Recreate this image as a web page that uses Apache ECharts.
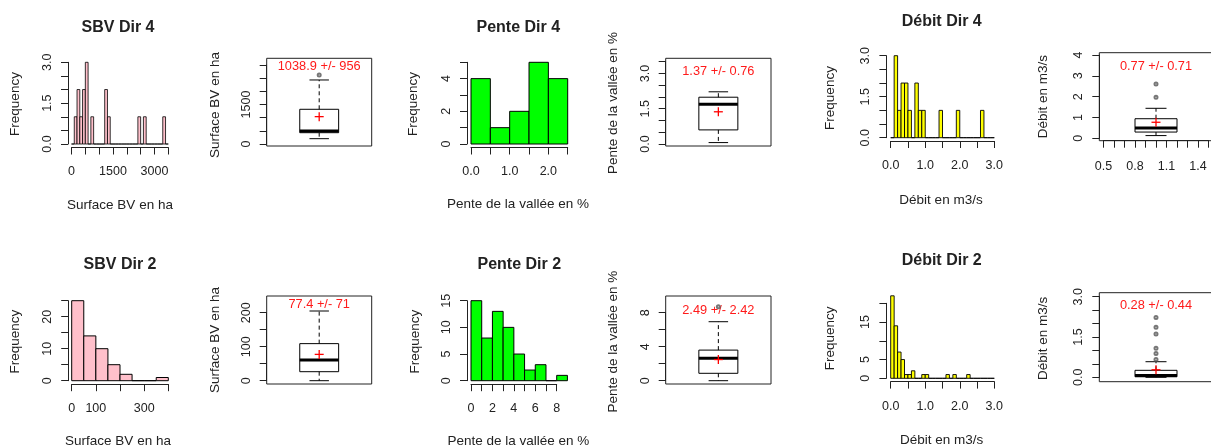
<!DOCTYPE html>
<html><head><meta charset="utf-8">
<script src="https://cdn.jsdelivr.net/npm/echarts@6/dist/echarts.min.js"></script>
<style>html,body{margin:0;padding:0;background:#fff}#c{width:1211px;height:448px}</style>
</head><body><div id="c"></div>
<script>
// ---------------- DATA ----------------
// Histogram counts, uniform bins starting at 0
const sbvDir4Counts = [0,1,2,1,2,3,0,1,0,0,0,0,2,1,0,0,0,0,0,0,0,0,0,0,1,0,1,0,0,0,0,0,0,1,0];
const sbvDir4BinWidth = 100;
const penteDir4Counts = [4,1,2,5,4];
const penteDir4BinWidth = 0.5;
const debitDir4Counts = [0,3,1,2,2,1,0,2,1,1, 0,0,0,0,1,0,0,0,0,1, 0,0,0,0,0,0,1,0,0,0];
const debitDir4BinWidth = 0.1;
const sbvDir2Counts = [25,14,10,5,2,0,0,1];
const sbvDir2BinWidth = 50;
const penteDir2Counts = [15,8,13,10,5,2,3,0,1];
const penteDir2BinWidth = 1;
const debitDir2Counts = [22,14,7,5,1,1,2,0,0,1, 1,0,0,0,0,0,1,0,1,0, 0,0,1,0,0,0,0,0,0,0];
const debitDir2BinWidth = 0.1;

// Boxplots: [lower whisker, Q1, median, Q3, upper whisker]
const sbvDir4Box = [202, 429, 490, 1318, 2431];
const sbvDir4Outliers = [2620];
const penteDir4Box = [0.06, 0.6, 1.69, 1.99, 2.22];
const penteDir4Outliers = [];
const debitDir4Box = [0.13, 0.30, 0.49, 0.94, 1.44];
const debitDir4Outliers = [1.97, 2.61];
const sbvDir2Box = [0, 26.5, 61, 109, 205];
const sbvDir2Outliers = [];
const penteDir2Box = [0, 0.87, 2.63, 3.6, 6.94];
const penteDir2Outliers = [8.7];
const debitDir2Box = [0.0, 0.02, 0.07, 0.26, 0.58];
const debitDir2Outliers = [0.66, 0.89, 1.08, 1.61, 1.86, 2.23];

// Means and standard deviations
const boxMeans = [1038.9, 1.37, 0.77, 77.4, 2.49, 0.28];
const boxSds   = [956, 0.76, 0.71, 71, 2.42, 0.44];
// y value (data units) where the "mean +/- sd" text sits
const boxTextY = [2962, 3.1, 3.44, 225, 8.3, 2.66];

// Tick labels
const sbvDir4XLabels = [0, 1500, 3000];
const freq3Labels = [0, 1.5, 3];
const penteDir4XLabels = [0, 1, 2];
const penteDir4YLabels = [0, 2, 4];
const debitXLabels = [0, 1, 2, 3];
const sbvDir2XLabels = [0, 100, 300];
const sbvDir2YLabels = [0, 10, 20];
const penteDir2XLabels = [0, 2, 4, 6, 8];
const penteDir2YLabels = [0, 5, 10, 15];
const debitDir2YLabels = [0, 5, 15];
const sbvDir4BoxLabels = [0, 1500];
const penteDir4BoxLabels = [0, 1.5, 3];
const debitDir4BoxLabels = [0, 1, 2, 3, 4];
const debitDir4BoxXLabels = [0.5, 0.8, 1.1, 1.4];
const sbvDir2BoxLabels = [0, 100, 200];
const penteDir2BoxLabels = [0, 4, 8];
const debitDir2BoxLabels = [0, 1.5, 3];

// ---------------- BUILD ----------------
const FONT = '"Liberation Sans", Arial, sans-serif';
const INK = '#222';
const grids = [], xAxes = [], yAxes = [], series = [], texts = [];

function fmt(labels, dec) {
  return function (v) { return labels.some(l => Math.abs(l - v) < 1e-6) ? Number(v).toFixed(dec) : ''; };
}
function addGrid(r) { grids.push(Object.assign({ outerBoundsMode: 'none', containLabel: false }, r)); return grids.length - 1; }
function valueAxis(gi, o) {
  return {
    gridIndex: gi, type: 'value', min: o.min, max: o.max, interval: o.interval,
    position: o.position, offset: o.offset || 0,
    axisLine: { show: true, onZero: false, lineStyle: { color: INK, width: 1 } },
    axisTick: { show: true, length: 7, inside: false, lineStyle: { color: INK, width: 1 } },
    axisLabel: { show: true, rotate: o.rotate || 0, margin: o.margin, fontSize: 12.5, fontFamily: FONT, color: INK,
                 formatter: fmt(o.labels, o.dec) },
    splitLine: { show: false }
  };
}
function hiddenAxis(gi, min, max, pos) {
  return { gridIndex: gi, type: 'value', min: min, max: max, show: false, position: pos,
           axisLine: { onZero: false }, splitLine: { show: false } };
}
function addText(x, y, text, font, rot) {
  texts.push({ type: 'text', x: x, y: y, rotation: rot ? Math.PI / 2 : 0, silent: true,
    style: { text: text, font: font, fill: INK, align: 'center', verticalAlign: 'middle' } });
}
const TITLE_FONT = 'bold 16px ' + FONT;
const NAME_FONT = '13.5px ' + FONT;

function histPanel(p) {
  const gi = addGrid(p.grid);
  const xi = xAxes.push(valueAxis(gi, Object.assign({ position: 'bottom', margin: 18 }, p.x))) - 1;
  const yi = yAxes.push(valueAxis(gi, Object.assign({ position: 'left', rotate: 90, margin: 14 }, p.y))) - 1;
  series.push({
    type: 'custom', xAxisIndex: xi, yAxisIndex: yi, clip: false, silent: true, animation: false,
    data: p.counts.map((c, i) => [i * p.width, (i + 1) * p.width, c]),
    renderItem: function (params, api) {
      const a = api.coord([api.value(0), api.value(2)]);
      const b = api.coord([api.value(1), 0]);
      return { type: 'rect', shape: { x: a[0], y: a[1], width: b[0] - a[0], height: b[1] - a[1] },
               style: { fill: p.color, stroke: '#000', lineWidth: p.stroke || 1 } };
    }
  });
  addText(p.title[0], p.title[1], p.title[2], TITLE_FONT);
  addText(p.xname[0], p.xname[1], p.xname[2], NAME_FONT);
  addText(p.yname[0], p.yname[1], p.yname[2], NAME_FONT, true);
}

const USR_X = [0.46, 1.54];
function boxPanel(p) {
  const fg = addGrid(Object.assign({ show: true, borderColor: INK, borderWidth: 1, backgroundColor: 'transparent' }, p.frame));
  xAxes.push(hiddenAxis(fg, 0, 1, 'bottom')); yAxes.push(hiddenAxis(fg, 0, 1, 'left'));
  const ag = addGrid({ left: p.frame.left, width: p.frame.width, top: p.yTop, height: p.yBottom - p.yTop });
  const xi = xAxes.push(hiddenAxis(ag, USR_X[0], USR_X[1], 'bottom')) - 1;
  const yi = yAxes.push(valueAxis(ag, Object.assign({ position: 'left', rotate: 90, margin: 14 }, p.y))) - 1;
  const label = p.mean + ' +/- ' + p.sd;
  series.push({
    type: 'scatter', xAxisIndex: xi, yAxisIndex: yi, clip: false, silent: true, animation: false,
    symbol: 'emptyCircle', symbolSize: 3,
    itemStyle: { color: '#555', borderColor: '#555', borderWidth: 1 },
    data: p.outliers.map(v => [1, v])
  });
  series.push({
    type: 'custom', xAxisIndex: xi, yAxisIndex: yi, clip: false, silent: true, animation: false,
    data: [[1].concat(p.stats).concat([p.mean, p.textY])],
    renderItem: function (params, api) {
      const xc = api.value(0), lo = api.value(1), q1 = api.value(2), med = api.value(3), q3 = api.value(4), hi = api.value(5);
      const mean = api.value(6), ty = api.value(7);
      const c = (x, y) => api.coord([x, y]);
      const line = (p1, p2, st) => ({ type: 'line', shape: { x1: p1[0], y1: p1[1], x2: p2[0], y2: p2[1] }, style: st });
      const solid = { stroke: '#000', lineWidth: 1 };
      const dashed = { stroke: '#000', lineWidth: 1, lineDash: [4, 3] };
      const bl = c(xc - 0.2, q3), br = c(xc + 0.2, q1);
      const m = c(xc, mean);
      const t = c(xc, ty);
      return { type: 'group', children: [
        line(c(xc, q3), c(xc, hi), dashed),
        line(c(xc, q1), c(xc, lo), dashed),
        line(c(xc - 0.1, hi), c(xc + 0.1, hi), solid),
        line(c(xc - 0.1, lo), c(xc + 0.1, lo), solid),
        { type: 'rect', shape: { x: bl[0], y: bl[1], width: br[0] - bl[0], height: br[1] - bl[1] },
          style: { fill: 'none', stroke: '#000', lineWidth: 1 } },
        line(c(xc - 0.2, med), c(xc + 0.2, med), { stroke: '#000', lineWidth: 3 }),
        line([m[0] - 4.5, m[1]], [m[0] + 4.5, m[1]], { stroke: '#ff0000', lineWidth: 1.3 }),
        line([m[0], m[1] - 4.5], [m[0], m[1] + 4.5], { stroke: '#ff0000', lineWidth: 1.3 }),
        { type: 'text', x: t[0], y: t[1], style: { text: label, font: '12.8px ' + FONT, fill: '#ff1a1a', align: 'center', verticalAlign: 'middle' } }
      ] };
    }
  });
  addText(p.yname[0], p.yname[1], p.yname[2], NAME_FONT, true);
  if (p.xaxis) {
    const w = p.frame.width / (USR_X[1] - USR_X[0]);
    const xg = addGrid({ left: p.frame.left + (p.xaxis.min - USR_X[0]) * w, width: (p.xaxis.max - p.xaxis.min) * w,
                         top: p.frame.top, height: p.frame.height });
    xAxes.push(valueAxis(xg, Object.assign({ position: 'bottom', margin: 19 }, p.xaxis)));
    yAxes.push(hiddenAxis(xg, 0, 1, 'left'));
  }
}

// ---- Row 1 ----
histPanel({ grid: { left: 71.5, top: 62.3, width: 96.8, height: 81.7 }, counts: sbvDir4Counts, width: sbvDir4BinWidth, color: '#ffc0cb', stroke: 0.8,
  x: { min: 0, max: 3500, interval: 500, labels: sbvDir4XLabels, dec: 0, offset: 3.5 },
  y: { min: 0, max: 3, interval: 0.5, labels: freq3Labels, dec: 1, offset: 3.5 },
  title: [118, 28, 'SBV Dir 4'], xname: [120, 205, 'Surface BV en ha'], yname: [15, 104, 'Frequency'] });
boxPanel({ frame: { left: 266.7, top: 58.3, width: 105, height: 87.7 }, yTop: 65, yBottom: 144,
  y: { min: 0, max: 3000, interval: 500, labels: sbvDir4BoxLabels, dec: 0 },
  stats: sbvDir4Box, outliers: sbvDir4Outliers, mean: boxMeans[0], sd: boxSds[0], textY: boxTextY[0],
  yname: [215, 105, 'Surface BV en ha'] });
histPanel({ grid: { left: 471, top: 62.3, width: 96.7, height: 81.7 }, counts: penteDir4Counts, width: penteDir4BinWidth, color: '#00ff00',
  x: { min: 0, max: 2.5, interval: 0.5, labels: penteDir4XLabels, dec: 1, offset: 3.5 },
  y: { min: 0, max: 5, interval: 1, labels: penteDir4YLabels, dec: 0, offset: 4 },
  title: [518.3, 28, 'Pente Dir 4'], xname: [518, 204, 'Pente de la vallée en %'], yname: [413.3, 104, 'Frequency'] });
boxPanel({ frame: { left: 665.7, top: 58.3, width: 105.3, height: 87.7 }, yTop: 61.7, yBottom: 144,
  y: { min: 0, max: 3.5, interval: 0.5, labels: penteDir4BoxLabels, dec: 1 },
  stats: penteDir4Box, outliers: penteDir4Outliers, mean: boxMeans[1], sd: boxSds[1], textY: boxTextY[1],
  yname: [613.3, 103, 'Pente de la vallée en %'] });
histPanel({ grid: { left: 890.7, top: 55.7, width: 103.6, height: 82 }, counts: debitDir4Counts, width: debitDir4BinWidth, color: '#ffff00', stroke: 0.9,
  x: { min: 0, max: 3, interval: 0.5, labels: debitXLabels, dec: 1, offset: 3.3 },
  y: { min: 0, max: 3, interval: 0.5, labels: freq3Labels, dec: 1, offset: 4.3 },
  title: [941.7, 21.7, 'Débit Dir 4'], xname: [941, 200, 'Débit en m3/s'], yname: [830, 98, 'Frequency'] });
boxPanel({ frame: { left: 1099.3, top: 52.7, width: 113.4, height: 88 }, yTop: 55, yBottom: 138.3,
  y: { min: 0, max: 4, interval: 1, labels: debitDir4BoxLabels, dec: 0 },
  stats: debitDir4Box, outliers: debitDir4Outliers, mean: boxMeans[2], sd: boxSds[2], textY: boxTextY[2],
  yname: [1043.3, 96.7, 'Débit en m3/s'],
  xaxis: { min: 0.5, max: 1.5, interval: 0.1, labels: debitDir4BoxXLabels, dec: 1 } });

// ---- Row 2 ----
histPanel({ grid: { left: 71.7, top: 300.7, width: 96.6, height: 80 }, counts: sbvDir2Counts, width: sbvDir2BinWidth, color: '#ffc0cb',
  x: { min: 0, max: 400, interval: 100, labels: sbvDir2XLabels, dec: 0, offset: 3.5 },
  y: { min: 0, max: 25, interval: 5, labels: sbvDir2YLabels, dec: 0, offset: 3.5 },
  title: [120, 265, 'SBV Dir 2'], xname: [118, 441, 'Surface BV en ha'], yname: [15, 341.7, 'Frequency'] });
boxPanel({ frame: { left: 266.7, top: 296, width: 105, height: 88 }, yTop: 312.7, yBottom: 380.7,
  y: { min: 0, max: 200, interval: 50, labels: sbvDir2BoxLabels, dec: 0 },
  stats: sbvDir2Box, outliers: sbvDir2Outliers, mean: boxMeans[3], sd: boxSds[3], textY: boxTextY[3],
  yname: [215, 340, 'Surface BV en ha'] });
histPanel({ grid: { left: 471, top: 300.7, width: 85.7, height: 80 }, counts: penteDir2Counts, width: penteDir2BinWidth, color: '#00ff00',
  x: { min: 0, max: 8, interval: 1, labels: penteDir2XLabels, dec: 0, offset: 3.5 },
  y: { min: 0, max: 15, interval: 5, labels: penteDir2YLabels, dec: 0, offset: 4 },
  title: [519.3, 265, 'Pente Dir 2'], xname: [518.3, 441, 'Pente de la vallée en %'], yname: [415, 341.7, 'Frequency'] });
boxPanel({ frame: { left: 665.7, top: 296, width: 105.3, height: 88 }, yTop: 312.7, yBottom: 380.7,
  y: { min: 0, max: 8, interval: 2, labels: penteDir2BoxLabels, dec: 0 },
  stats: penteDir2Box, outliers: penteDir2Outliers, mean: boxMeans[4], sd: boxSds[4], textY: boxTextY[4],
  yname: [613.3, 341.7, 'Pente de la vallée en %'] });
histPanel({ grid: { left: 890.7, top: 303.3, width: 103.6, height: 75 }, counts: debitDir2Counts, width: debitDir2BinWidth, color: '#ffff00', stroke: 0.9,
  x: { min: 0, max: 3, interval: 0.5, labels: debitXLabels, dec: 1, offset: 3.3 },
  y: { min: 0, max: 20, interval: 5, labels: debitDir2YLabels, dec: 0, offset: 4.3 },
  title: [941.7, 261, 'Débit Dir 2'], xname: [941.7, 440, 'Débit en m3/s'], yname: [830, 338.3, 'Frequency'] });
boxPanel({ frame: { left: 1099.3, top: 292.7, width: 113.4, height: 89 }, yTop: 296.7, yBottom: 377.3,
  y: { min: 0, max: 3, interval: 0.5, labels: debitDir2BoxLabels, dec: 1 },
  stats: debitDir2Box, outliers: debitDir2Outliers, mean: boxMeans[5], sd: boxSds[5], textY: boxTextY[5],
  yname: [1043.3, 338.3, 'Débit en m3/s'] });

const chart = echarts.init(document.getElementById('c'), null, { renderer: 'canvas', width: 1211, height: 448 });
chart.setOption({
  animation: false,
  backgroundColor: '#ffffff',
  grid: grids, xAxis: xAxes, yAxis: yAxes, series: series,
  graphic: { elements: texts }
});
</script></body></html>
